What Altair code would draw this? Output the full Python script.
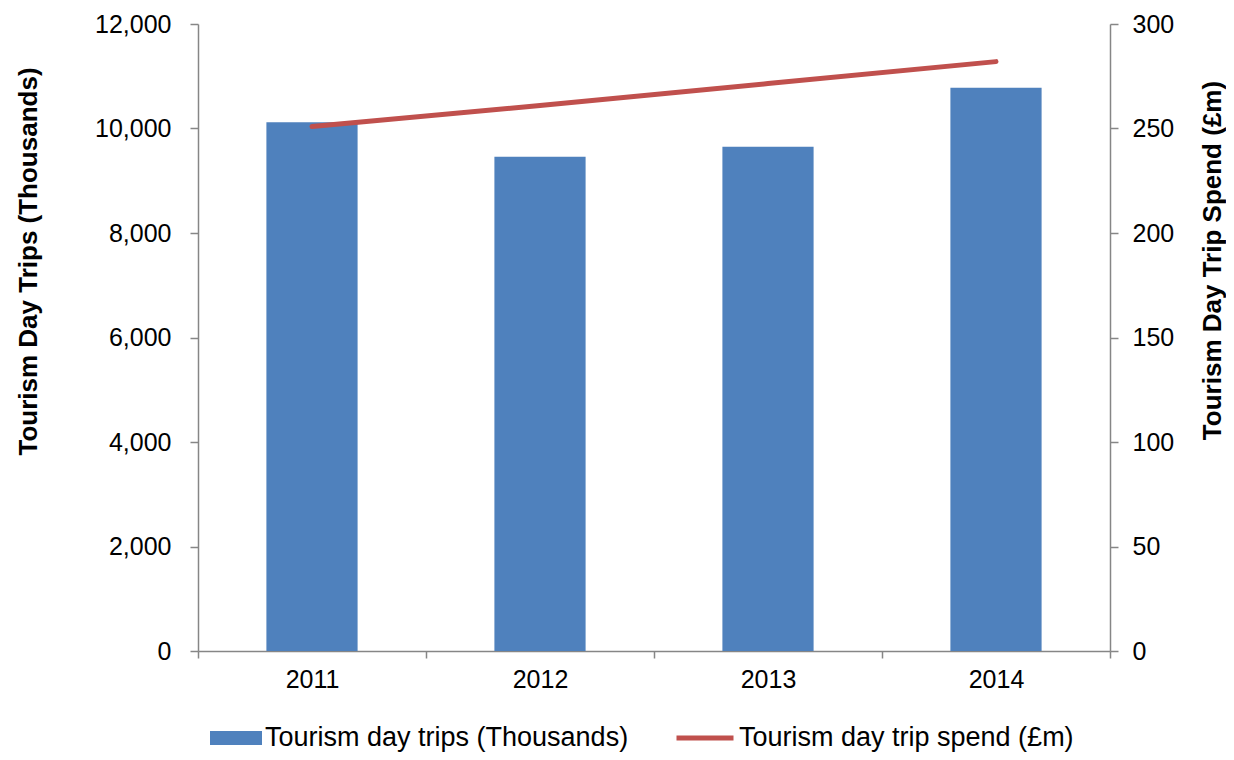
import altair as alt
import pandas as pd

years = ["2011", "2012", "2013", "2014"]
day_trips = [10120, 9460, 9650, 10780]
trip_spend = [251, 261, 271.5, 282]
left_ticks = [0, 2000, 4000, 6000, 8000, 10000, 12000]
right_ticks = [0, 50, 100, 150, 200, 250, 300]
trips_label = "Tourism day trips (Thousands)"
spend_label = "Tourism day trip spend (£m)"

df = pd.DataFrame({
    "year": years,
    "trips": day_trips,
    "spend": trip_spend,
    "s1": [trips_label] * len(years),
    "s2": [spend_label] * len(years),
})

FONT = "Liberation Sans"
GRAY = "#868686"
BLUE = "#4F81BD"
RED = "#C0504D"

x = alt.X(
    "year:N",
    title=None,
    scale=alt.Scale(paddingInner=0, paddingOuter=0),
    axis=alt.Axis(labelAngle=0, tickBand="extent", tickSize=7, labelPadding=9),
)

bars = alt.Chart(df).mark_bar(color=BLUE, width=alt.RelativeBandSize(0.4)).encode(
    x=x,
    y=alt.Y(
        "trips:Q",
        scale=alt.Scale(domain=[0, 12000], nice=False),
        axis=alt.Axis(
            orient="left", values=left_ticks, format=",.0f",
            title="Tourism Day Trips (Thousands)",
            tickSize=8, labelPadding=19,
            titleX=-170, titleY=237, titleAngle=-90,
            titleBaseline="middle", titleAlign="center",
        ),
    ),
    fill=alt.Fill(
        "s1:N",
        scale=alt.Scale(domain=[trips_label], range=[BLUE]),
        legend=alt.Legend(
            title=None, orient="none", legendX=12, legendY=688,
            symbolType="M-1,-0.27H1V0.27H-1Z", symbolSize=2704,
            symbolStrokeWidth=0, symbolOpacity=1, labelOffset=3,
        ),
    ),
)

line = alt.Chart(df).mark_line(strokeWidth=5, strokeCap="round").encode(
    x=x,
    y=alt.Y(
        "spend:Q",
        scale=alt.Scale(domain=[0, 300], nice=False),
        axis=alt.Axis(
            orient="right", values=right_ticks,
            title="Tourism Day Trip Spend (£m)",
            tickSize=8, labelPadding=14,
            titleX=102, titleY=236, titleAngle=-90,
            titleBaseline="middle", titleAlign="center",
        ),
    ),
    stroke=alt.Stroke(
        "s2:N",
        scale=alt.Scale(domain=[spend_label], range=[RED]),
        legend=alt.Legend(
            title=None, orient="none", legendX=476, legendY=683,
            symbolType="stroke", symbolSize=3249, symbolStrokeWidth=5,
            labelOffset=3,
        ),
    ),
)

chart = (
    alt.layer(bars, line)
    .resolve_scale(y="independent", fill="independent", stroke="independent")
    .properties(
        width=912, height=627,
        autosize=alt.AutoSizeParams(type="none"),
        padding={"left": 190, "top": 16, "right": 116, "bottom": 101},
    )
    .configure_view(stroke=None)
    .configure_axis(
        grid=False,
        labelFont=FONT, labelFontSize=25, labelColor="#000000",
        titleFont=FONT, titleFontSize=26, titleFontWeight="bold", titleColor="#000000",
        domainColor=GRAY, tickColor=GRAY, domainWidth=1.5, tickWidth=1.5,
    )
    .configure_legend(
        labelFont=FONT, labelFontSize=27, labelColor="#000000", labelLimit=0,
        padding=0,
    )
)

chart.save("out.html", embed_options={"renderer": "svg", "actions": False})
